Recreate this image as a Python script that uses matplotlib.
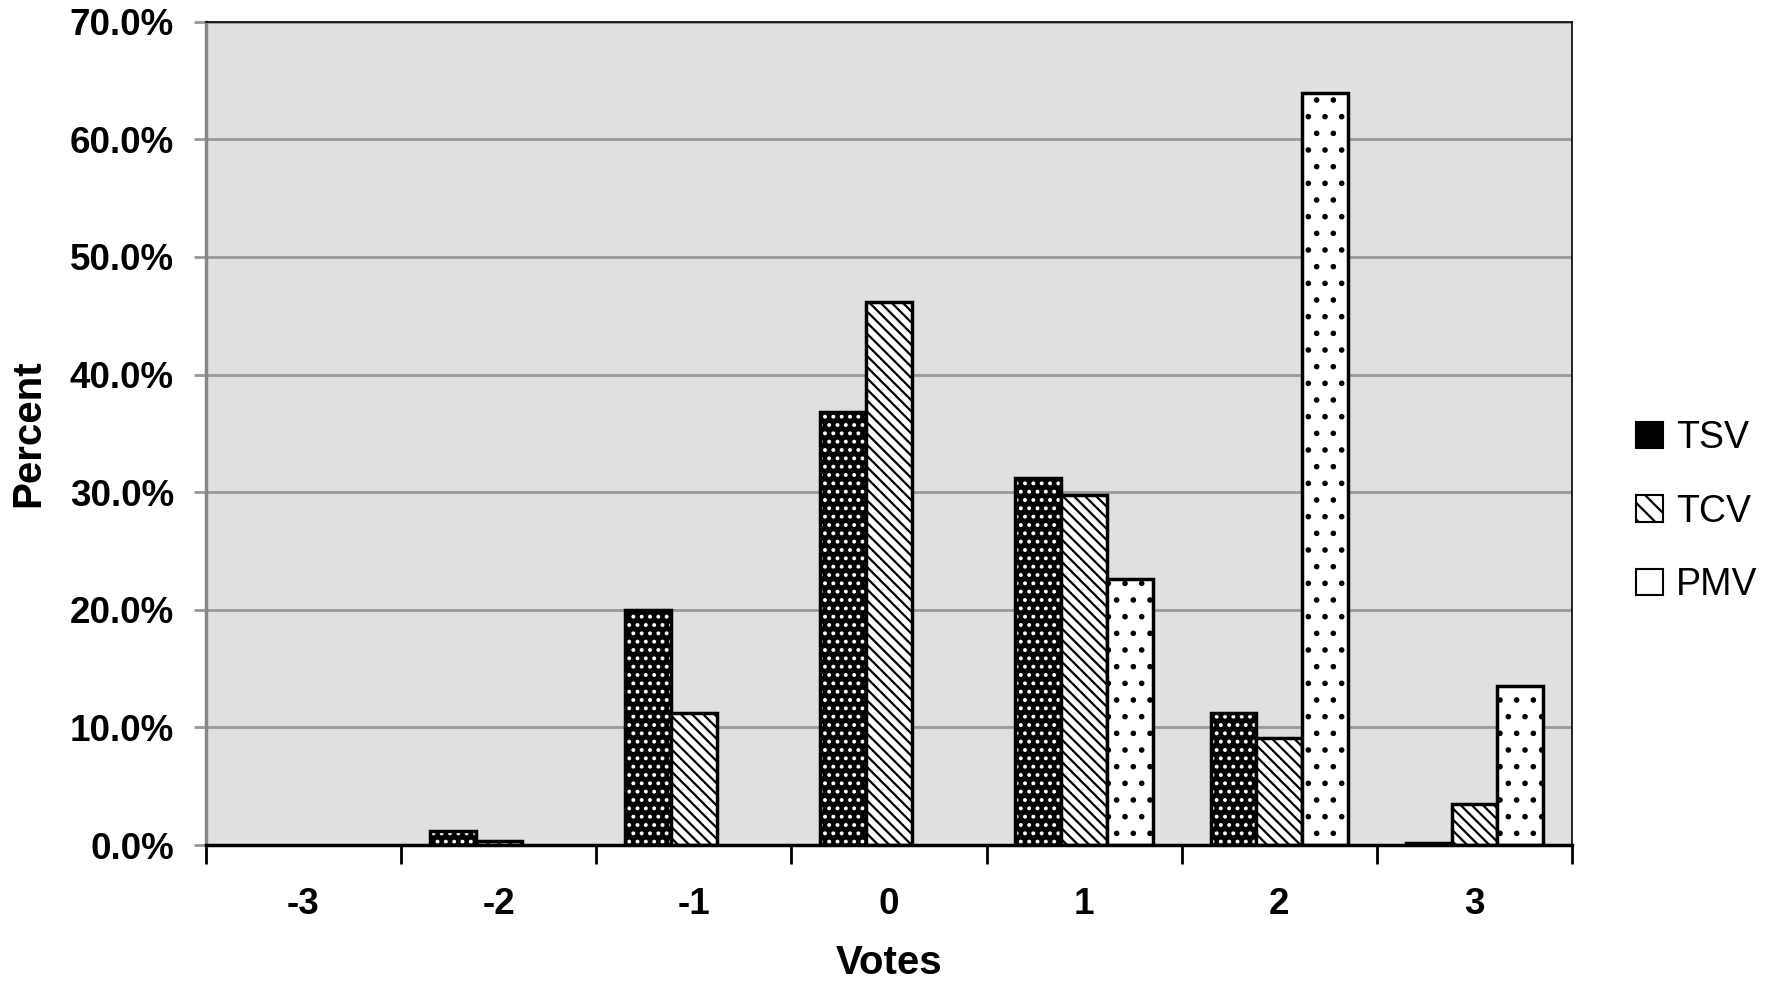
import numpy as np
import matplotlib
matplotlib.use("Agg")
import matplotlib.pyplot as plt
from matplotlib.ticker import FuncFormatter, FixedLocator
from matplotlib.patches import Patch

votes = ["-3", "-2", "-1", "0", "1", "2", "3"]
tsv = [0.0, 1.2, 20.0, 36.8, 31.2, 11.2, 0.2]
tcv = [0.0, 0.3, 11.2, 46.2, 29.8, 9.1, 3.5]
pmv = [0.0, 0.0, 0.0, 0.0, 22.6, 63.9, 13.5]

plt.rcParams['font.family'] = ['Liberation Sans', 'DejaVu Sans']
plt.rcParams['hatch.linewidth'] = 1.6

fig = plt.figure(figsize=(17.69, 9.86), dpi=100)
ax = fig.add_axes([0.1164, 0.143, 0.7723, 0.835])
ax.set_facecolor('#e0e0e0')

x = np.arange(len(votes))
w = 0.235

ax.grid(axis='y', color='#999999', linewidth=2)
ax.set_axisbelow(True)


def nonzero(pos, vals):
    # empty bars are not drawn at all in the original
    vals = np.asarray(vals)
    keep = vals > 0
    return pos[keep], vals[keep]


# TSV: black with white dots (hatch drawn in white, outline drawn on top)
px, pv = nonzero(x - w, tsv)
ax.bar(px, pv, w, color='black', edgecolor='white', hatch='..', linewidth=0)
ax.bar(px, pv, w, color='none', edgecolor='black', linewidth=2.5)
# TCV: white with diagonal lines
px, pv = nonzero(x, tcv)
ax.bar(px, pv, w, color='white', edgecolor='black', hatch='\\\\\\', linewidth=2.5)
# PMV: white with sparse dots
px, pv = nonzero(x + w, pmv)
ax.bar(px, pv, w, color='white', edgecolor='black', hatch='.', linewidth=2.5)

ax.set_xlim(-0.5, len(votes) - 0.5)
ax.set_ylim(0, 70)
ax.set_yticks(np.arange(0, 71, 10))
ax.yaxis.set_major_formatter(FuncFormatter(lambda v, p: f"{v:.1f}%"))
ax.set_xticks(x)
ax.set_xticklabels(votes)
ax.xaxis.set_minor_locator(FixedLocator(np.arange(-0.5, len(votes), 1.0)))
ax.tick_params(axis='x', which='major', length=0, pad=30)
ax.tick_params(axis='x', which='minor', length=14, width=2, color='black', direction='out')
ax.tick_params(axis='y', length=9, width=2, color='#999999', pad=14)
for lab in ax.get_xticklabels() + ax.get_yticklabels():
    lab.set_fontsize(26.5)
    lab.set_fontweight('bold')

for s in ['top', 'right']:
    ax.spines[s].set_color('black')
    ax.spines[s].set_linewidth(1.2)
ax.spines['left'].set_color('#888888')
ax.spines['left'].set_linewidth(2.5)
ax.spines['bottom'].set_color('black')
ax.spines['bottom'].set_linewidth(2.5)

ax.set_xlabel("Votes", fontsize=29, fontweight='bold', labelpad=16)
ax.set_ylabel("Percent", fontsize=29, fontweight='bold', labelpad=16)

handles = [
    Patch(facecolor='black', edgecolor='black', hatch='..', linewidth=1.5),
    Patch(facecolor='white', edgecolor='black', hatch='\\\\', linewidth=1.5),
    Patch(facecolor='white', edgecolor='black', linewidth=1.5),
]
fig.legend(handles, ["TSV", "TCV", "PMV"], loc='center left', bbox_to_anchor=(0.9165, 0.481),
           frameon=False, fontsize=27, handlelength=0.7, handleheight=0.7, handletextpad=0.35,
           labelspacing=1.0, borderaxespad=0)

fig.savefig("out.png", dpi=100)
